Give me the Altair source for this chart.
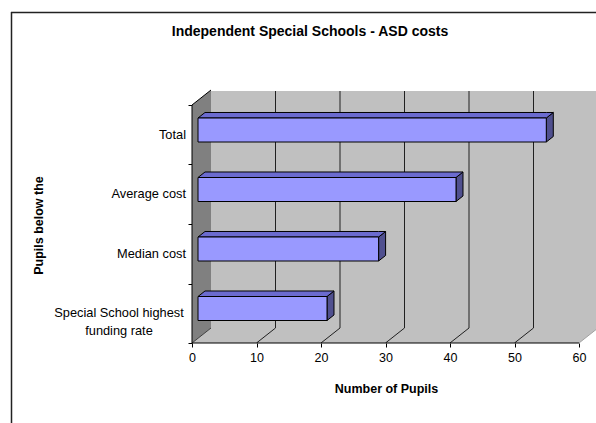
import altair as alt
import pandas as pd

# ---------------- data ----------------
CATEGORIES = ["Special School highest\nfunding rate", "Median cost", "Average cost", "Total"]
VALUES = [20, 28, 40, 54]
X_TICKS = [0, 10, 20, 30, 40, 50, 60]
TITLE = "Independent Special Schools - ASD costs"
X_TITLE = "Number of Pupils"
Y_TITLE = "Pupils below the"

# ---------------- geometry / style ----------------
FONT = "Liberation Sans"
PLOT_W, PLOT_H = 404, 252
PX_X = 387 / 60.0          # pixels per x unit
PX_Y = 59.5                # pixels per category band
XMAX = PLOT_W / PX_X
YMAX = PLOT_H / PX_Y
DX = 19 / PX_X             # 3-D depth shift (x units)
DY = 15 / PX_Y             # 3-D depth shift (y units)
F1, F2 = 0.316, 0.684      # bar front/back depth fractions
HH = 12 / PX_Y             # bar half thickness
N = len(CATEGORIES)
XEND = X_TICKS[-1]

xscale = alt.Scale(domain=[0, XMAX], nice=False, zero=False)
yscale = alt.Scale(domain=[0, YMAX], nice=False, zero=False)

xaxis = alt.Axis(values=X_TICKS, title=X_TITLE, domain=False, grid=False,
                 tickSize=4, tickColor="black", labelFlush=False,
                 labelFont=FONT, labelFontSize=12.5, labelColor="black", labelPadding=4,
                 titleFont=FONT, titleFontSize=12.5, titleFontWeight="bold",
                 titleColor="black", titleX=194, titleY=45, titleBaseline="middle")
yaxis = alt.Axis(values=list(range(N + 1)), title=Y_TITLE, domain=False, grid=False,
                 labels=False, tickSize=4, tickColor="black",
                 titleFont=FONT, titleFontSize=12.5, titleFontWeight="bold",
                 titleColor="black", titleX=-154, titleY=134, titleBaseline="middle")


def X(f):
    return alt.X(f, type="quantitative", scale=xscale, axis=xaxis)


def Y(f):
    return alt.Y(f, type="quantitative", scale=yscale, axis=yaxis, stack=False)


# back wall
wall = pd.DataFrame({"x": [DX], "x2": [XMAX], "y": [DY], "y2": [N + DY]})
back = alt.Chart(wall).mark_rect(fill="#c0c0c0", clip=True).encode(
    x=X("x"), x2="x2", y=Y("y"), y2="y2")

# floor
floor_df = pd.DataFrame({"x": [0, DX, XEND, XEND + DX],
                         "y": [0, DY, DY, DY], "y2": [0, 0, 0, DY]})
floor = alt.Chart(floor_df).mark_area(fill="#c0c0c0", clip=True).encode(
    x=X("x"), y=Y("y"), y2="y2")

# left side wall
side_df = pd.DataFrame({"x": [0, DX], "y": [N, N + DY], "y2": [0, DY]})
leftwall = alt.Chart(side_df).mark_area(fill="#808080").encode(
    x=X("x"), y=Y("y"), y2="y2")

# gridlines on back wall
grid_df = pd.DataFrame({"x": [v + DX for v in X_TICKS[1:]],
                        "y": [DY] * (len(X_TICKS) - 1), "y2": [N + DY] * (len(X_TICKS) - 1)})
grid = alt.Chart(grid_df).mark_rule(color="#202020", strokeWidth=1, clip=True).encode(
    x=X("x"), y=Y("y"), y2="y2")

# floor diagonals
diag_df = pd.DataFrame({"x": X_TICKS[1:], "x2": [v + DX for v in X_TICKS[1:]],
                        "y": [0] * (len(X_TICKS) - 1), "y2": [DY] * (len(X_TICKS) - 1),
                        "c": ["#202020"] * (len(X_TICKS) - 2) + ["#a0a0a0"]})
diag = alt.Chart(diag_df).mark_rule(strokeWidth=1, clip=True).encode(
    x=X("x"), x2="x2", y=Y("y"), y2="y2", color=alt.Color("c:N", scale=None))

# wall edges
edge_df = pd.DataFrame({"x": [0, 0], "x2": [DX, DX], "y": [N, 0], "y2": [N + DY, DY],
                        "c": ["#000000", "#404040"]})
edges = alt.Chart(edge_df).mark_rule(strokeWidth=1).encode(
    x=X("x"), x2="x2", y=Y("y"), y2="y2", color=alt.Color("c:N", scale=None))

# front axis lines
axl_df = pd.DataFrame({"x": [0, 0], "x2": [0, XEND], "y": [0, 0], "y2": [N, 0]})
axlines = alt.Chart(axl_df).mark_rule(color="black", strokeWidth=1).encode(
    x=X("x"), x2="x2", y=Y("y"), y2="y2")

# bars
W = F2 - F1
front_rows, top_rows, sidef_rows = [], [], []
for i, (cat, v) in enumerate(zip(CATEGORIES, VALUES)):
    a = F1 * DX
    c = v + F1 * DX
    yb = i + 0.5 + F1 * DY - HH
    yt = i + 0.5 + F1 * DY + HH
    front_rows.append({"id": i, "x": a, "x2": c, "y": yb, "y2": yt})
    for xx, y1, y2 in [(a, yt, yt), (a + W * DX, yt + W * DY, yt),
                       (c, yt + W * DY, yt), (c + W * DX, yt + W * DY, yt + W * DY)]:
        top_rows.append({"id": i, "x": xx, "y": y1, "y2": y2})
    for xx, y1, y2 in [(c, yt, yb), (c + W * DX, yt + W * DY, yb + W * DY)]:
        sidef_rows.append({"id": i, "x": xx, "y": y1, "y2": y2})

bar_side = alt.Chart(pd.DataFrame(sidef_rows)).mark_area(
    fill="#50508f", stroke="black", strokeWidth=1, strokeJoin="miter").encode(
    x=X("x"), y=Y("y"), y2="y2", detail="id:N")
bar_top = alt.Chart(pd.DataFrame(top_rows)).mark_area(
    fill="#6b6bcf", stroke="black", strokeWidth=1, strokeJoin="miter").encode(
    x=X("x"), y=Y("y"), y2="y2", detail="id:N")
bar_front = alt.Chart(pd.DataFrame(front_rows)).mark_rect(
    fill="#9999ff", stroke="black", strokeWidth=1).encode(
    x=X("x"), x2="x2", y=Y("y"), y2="y2")

# category labels
lab_df = pd.DataFrame({"cat": CATEGORIES, "y": [i + 0.5 for i in range(N)]})
single = lab_df[~lab_df["cat"].str.contains("\n")]
multi = lab_df[lab_df["cat"].str.contains("\n")]
lab1 = alt.Chart(single).mark_text(align="right", baseline="middle", font=FONT,
                                   fontSize=12.8, color="black").encode(
    x=alt.value(-6), y=Y("y"), text="cat:N")
lab2 = alt.Chart(multi).mark_text(align="center", baseline="middle", font=FONT,
                                  fontSize=12.8, color="black", lineBreak="\n",
                                  lineHeight=18).encode(
    x=alt.value(-73), y=Y("y"), text="cat:N")

# chart title
title = alt.Chart(pd.DataFrame({"t": [TITLE]})).mark_text(
    align="center", baseline="middle", font=FONT, fontSize=14, fontWeight="bold",
    color="black").encode(x=alt.value(118), y=alt.value(-59), text="t:N")

# outer frame (left and top edges)
frame_df = pd.DataFrame({"id": [0]})
frame_l = alt.Chart(frame_df).mark_rule(color="#222222", strokeWidth=1.5).encode(
    x=alt.value(-180.5), y=alt.value(-79), y2=alt.value(340))
frame_t = alt.Chart(frame_df).mark_rule(color="#222222", strokeWidth=1.5).encode(
    x=alt.value(-181), x2=alt.value(410), y=alt.value(-78.5))

chart = alt.layer(
    back, floor, leftwall, grid, diag, edges, axlines,
    bar_side, bar_top, bar_front, lab1, lab2, title, frame_l, frame_t
).properties(
    width=PLOT_W, height=PLOT_H,
    padding={"left": 192, "top": 91, "right": 0, "bottom": 80},
    autosize=alt.AutoSizeParams(type="none"),
    background="white",
).configure_view(stroke="transparent")

chart.save("out.html", embed_options={"renderer": "svg", "actions": False})
